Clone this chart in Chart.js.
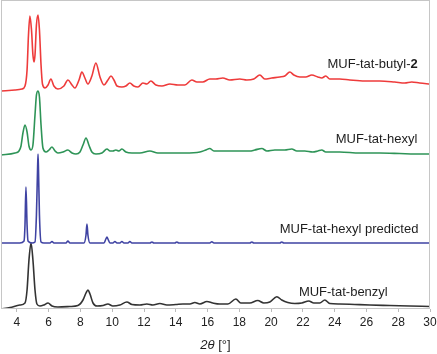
<!DOCTYPE html>
<html>
<head>
<meta charset="utf-8">
<script src="https://cdn.jsdelivr.net/npm/chart.js@4"></script>
<style>
html,body{margin:0;padding:0;background:#fff;}
#wrap{width:437px;height:354px;position:relative;}
</style>
</head>
<body>
<div id="wrap"><canvas id="c"></canvas></div>
<script>
// 2θ tick labels
const xTicks = [4,6,8,10,12,14,16,18,20,22,24,26,28,30];

// Series names
const seriesNames = ["MUF-tat-butyl-2","MUF-tat-hexyl","MUF-tat-hexyl predicted","MUF-tat-benzyl"];

// MUF-tat-butyl-2 (stacked intensity, a.u.)
const butylX = [3.00,3.88,4.32,4.51,4.64,4.73,4.82,4.92,5.01,5.08,5.14,5.23,5.33,5.42,5.52,5.61,5.77,5.96,6.14,6.33,6.58,6.96,7.21,7.47,7.65,7.91,8.09,8.28,8.47,8.72,8.97,9.23,9.48,9.73,9.92,10.11,10.30,10.61,10.86,11.11,11.36,11.62,11.93,12.18,12.43,12.75,13.13,13.63,14.13,14.57,15.01,15.33,15.70,16.14,16.52,16.96,17.40,18.03,18.47,18.91,19.29,19.60,20.04,20.55,20.86,21.18,21.43,21.81,22.18,22.56,22.94,23.19,23.44,23.69,24.32,24.95,25.89,26.84,27.78,28.41,28.85,29.35,30.00];
const butylY = [218,219,220,223,239,274,293,279,254,247,254,284,294,279,244,225,221,224,230,223,220,223,229,224,221,229,237,231,225,233,246,232,224,229,233,229,223,222,223,226,223,222,226,225,228,224,223,225,224,224,229,227,227,230,230,231,229,230,229,230,234,230,231,232,233,237,234,232,232,234,232,231,233,230,230,229,228,228,227,226,227,226,225];

// MUF-tat-hexyl
const hexylX = [3.00,3.88,4.13,4.26,4.38,4.51,4.64,4.76,4.89,5.01,5.14,5.23,5.33,5.42,5.52,5.64,5.83,6.02,6.21,6.40,6.58,6.90,7.21,7.47,7.72,7.97,8.16,8.35,8.53,8.72,8.97,9.35,9.67,9.86,10.04,10.23,10.42,10.61,10.86,11.24,11.74,12.37,12.87,13.63,14.57,15.52,15.89,16.14,16.40,17.09,18.03,18.66,18.97,19.42,19.73,20.23,20.86,21.30,21.62,22.12,22.62,22.94,23.19,23.44,24.32,25.58,26.84,28.09,29.04,30.00];
const hexylY = [154,156,158,163,176,184,177,163,159,164,194,214,218,212,184,161,157,159,162,158,156,157,159,156,155,157,164,171,164,157,155,156,160,158,158,159,158,160,157,156,156,158,156,156,156,157,159,160.5,158,158,158,158,159,160.5,158,159,159,160,158,158,157,158,159,157,157,156,156,155.5,155,155];

// MUF-tat-hexyl predicted
const predX = [3.00,4.19,4.45,4.51,4.57,4.64,4.70,4.95,5.14,5.23,5.30,5.33,5.36,5.42,5.52,5.70,6.08,6.21,6.33,7.09,7.21,7.34,8.22,8.35,8.41,8.47,8.60,9.48,9.60,9.67,9.73,9.86,10.04,10.17,10.30,10.48,10.61,10.74,10.99,11.11,11.24,12.37,12.50,12.62,13.94,14.07,14.19,16.14,16.27,16.40,18.66,18.79,18.91,20.55,20.67,20.80,23.69,30.00];
const predY = [66,66,68,84,122,84,68,66,67,94,139,155,139,94,67,66,66,67.5,66,66,68,66,66,74,85,74,66,66,70,72,70,66,66,67.5,66,66,67.5,66,66,67.5,66,66,67,66,66,67,66,66,67.2,66,66,67,66,66,67,66,66,66];

// MUF-tat-benzyl
const benzylX = [3.00,3.57,4.19,4.51,4.64,4.76,4.89,5.01,5.14,5.26,5.45,5.70,5.96,6.21,6.58,7.34,7.84,8.16,8.35,8.47,8.60,8.79,9.04,9.42,9.73,10.04,10.48,10.92,11.24,11.74,12.18,12.56,13.00,13.44,14.01,14.45,14.89,15.20,15.52,15.96,16.33,16.77,17.28,17.78,18.09,18.66,19.16,19.54,19.92,20.36,20.67,21.05,21.49,21.93,22.37,22.69,23.06,23.38,23.69,24.32,25.26,26.21,27.47,28.72,30.00];
const benzylY = [0,1.5,4,6,19,49,66,49,19,5,3,4,6,3,2,2.5,3.5,9,16,19,15,6,3,3.5,5,3,4,7,4.5,4,5,4,5.5,4,4.5,5,5,6.5,5,7.5,6,5,5,10,6,6,8.5,6,7,12.3,9,6.5,5.5,6,8,6,6,9,5.5,5,4.5,4,3.5,3,2.5];

// Label anchors (data coords, right-aligned)
const labelX = [29.23,29.20,29.27,27.34];
const labelY = [245,170,80,17];

const colors = ["#ee3b3b","#2e9457","#3f43a3","#333333"];
const xs = [butylX,hexylX,predX,benzylX];
const ys = [butylY,hexylY,predY,benzylY];

const datasets = seriesNames.map((n,i)=>({
  label:n,
  data: xs[i].map((x,j)=>({x:x,y:ys[i][j]})),
  borderColor: colors[i],
  borderWidth: 1.6,
  pointRadius: 0,
  fill:false,
  cubicInterpolationMode:'monotone'
}));

const FONT = "'Liberation Sans', Arial, Helvetica, sans-serif";

const framePlugin = {
  id:'frame',
  afterDraw(chart){
    const {ctx, chartArea:a, scales} = chart;
    ctx.save();
    ctx.strokeStyle = '#c6c6c6';
    ctx.lineWidth = 1;
    ctx.strokeRect(a.left+0.5, a.top+0.5, a.right-a.left-1, a.bottom-a.top-1);
    // series labels
    ctx.fillStyle = '#1e1e1e';
    ctx.textBaseline = 'middle';
    ctx.textAlign = 'right';
    seriesNames.forEach((n,i)=>{
      const px = scales.x.getPixelForValue(labelX[i]);
      const py = scales.y.getPixelForValue(labelY[i]);
      if(i===0){
        const parts = n.split('-');
        const last = parts.pop();
        ctx.font = "bold 13px " + FONT;
        const w = ctx.measureText(last).width;
        ctx.fillText(last, px, py);
        ctx.font = "13px " + FONT;
        ctx.fillText(parts.join('-') + '-', px - w, py);
      } else {
        ctx.font = "13px " + FONT;
        ctx.fillText(n, px, py);
      }
    });
    // axis title "2θ [°]"
    const cx = (a.left + a.right)/2;
    const ty = 345;
    ctx.textAlign = 'left';
    ctx.font = "italic 13px " + FONT;
    const t1 = "2\u03B8";
    const w1 = ctx.measureText(t1).width;
    ctx.font = "13px " + FONT;
    const t2 = " [\u00B0]";
    const w2 = ctx.measureText(t2).width;
    const sx = cx - (w1+w2)/2;
    ctx.font = "italic 13px " + FONT;
    ctx.fillText(t1, sx, ty);
    ctx.font = "13px " + FONT;
    ctx.fillText(t2, sx + w1, ty);
    ctx.restore();
  }
};

new Chart(document.getElementById('c'), {
  type:'line',
  data:{datasets},
  options:{
    responsive:true,
    maintainAspectRatio:false,
    animation:false,
    layout:{padding:{left:1,top:0,right:7,bottom:0}},
    plugins:{legend:{display:false},tooltip:{enabled:false}},
    scales:{
      x:{
        type:'linear', min:3, max:30,
        afterBuildTicks(scale){ scale.ticks = xTicks.map(v=>({value:v})); },
        afterFit(scale){ scale.height = 45; scale.paddingRight = 0; scale.paddingLeft = 0; },
        border:{display:false},
        grid:{drawOnChartArea:false, drawTicks:true, tickLength:3, color:'#bbbbbb'},
        ticks:{color:'#222', font:{size:12, family:FONT}, padding:3, maxRotation:0, autoSkip:false}
      },
      y:{ display:false, min:0, max:309 }
    }
  },
  plugins:[framePlugin]
});
</script>
</body>
</html>
